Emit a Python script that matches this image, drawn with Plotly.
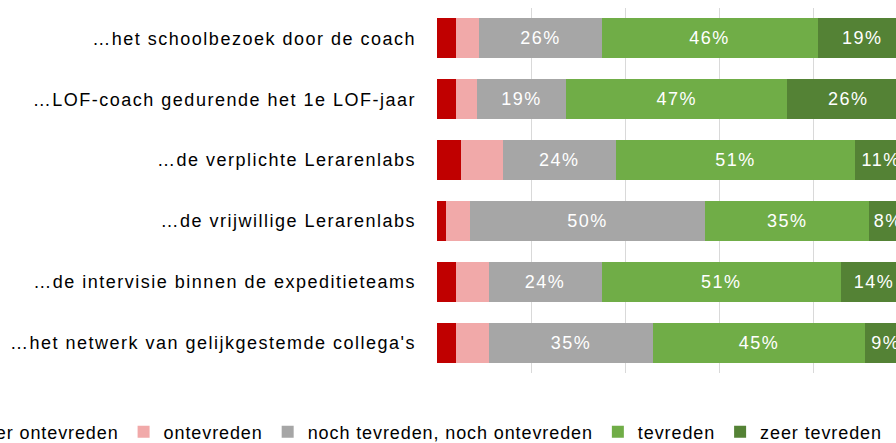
import plotly.graph_objects as go

categories = [
    "…het schoolbezoek door de coach",
    "…LOF-coach gedurende het 1e LOF-jaar",
    "…de verplichte Lerarenlabs",
    "…de vrijwillige Lerarenlabs",
    "…de intervisie binnen de expeditieteams",
    "…het netwerk van gelijkgestemde collega's",
]
zeer_ontevreden = [4, 4, 5, 2, 4, 4]
ontevreden = [5, 4.5, 9, 5, 7, 7]
noch = [26, 19, 24, 50, 24, 35]
tevreden = [46, 47, 51, 35, 51, 45]
zeer_tevreden = [19, 26, 11, 8, 14, 9]

FONT = "Liberation Sans, Arial, sans-serif"
SP = "<span style='letter-spacing:1.5px'>{}</span>"
# plotly puts more room between legend symbol and text than Excel, so the legend text is set a bit tighter
SP_LEGEND = "<span style='letter-spacing:0.9px'>{}</span>"

# figure is a bit larger than the window; the page shifts it left so it gets cropped like the original
HIDE_LEFT = 130
W, H = 896 + HIDE_LEFT + 60, 470
PLOT_L = 437 + HIDE_LEFT
PLOT_R = 907 + HIDE_LEFT
LEGEND_LEFT = -65 + HIDE_LEFT

series = [
    ("zeer ontevreden", zeer_ontevreden, "#C00000", False),
    ("ontevreden", ontevreden, "#F1A9A9", False),
    ("noch tevreden, noch ontevreden", noch, "#A6A6A6", True),
    ("tevreden", tevreden, "#70AD47", True),
    ("zeer tevreden", zeer_tevreden, "#548235", True),
]

fig = go.Figure()
for name, vals, color, labelled in series:
    fig.add_trace(go.Bar(
        y=categories, x=vals, name=SP_LEGEND.format(name), orientation="h",
        marker=dict(color=color, line=dict(width=0)),
        texttemplate=SP.format("%{x:.0f}%") if labelled else None,
        textposition="inside" if labelled else "none",
        insidetextanchor="middle", constraintext="none",
        textfont=dict(color="white", size=18, family=FONT),
        hoverinfo="skip",
    ))

fig.update_layout(
    template="none",
    width=W, height=H,
    margin=dict(l=PLOT_L, r=W - PLOT_R, t=8, b=H - 373, autoexpand=False),
    barmode="stack", bargap=0.34,
    paper_bgcolor="white", plot_bgcolor="white",
    font=dict(family=FONT, size=18, color="#000000"),
    legend=dict(
        orientation="h", traceorder="normal",
        xanchor="left", x=(LEGEND_LEFT - PLOT_L) / 470,
        yanchor="middle", y=-59 / 365,
        font=dict(family=FONT, size=18, color="#000000"),
        bgcolor="rgba(0,0,0,0)",
    ),
    xaxis=dict(range=[0, 100], dtick=20, showgrid=True, gridcolor="#D9D9D9",
               gridwidth=1, zeroline=False, showticklabels=False, ticks="",
               showline=False, fixedrange=True),
    yaxis=dict(autorange="reversed", tickvals=categories,
               ticktext=[SP.format(c) for c in categories],
               ticks="", showline=False, showgrid=False, automargin=False,
               ticklabelstandoff=20, fixedrange=True),
)

post = ("document.body.style.margin='0';document.body.style.overflow='hidden';"
        "document.getElementById('{plot_id}').style.marginLeft='-%dpx';" % HIDE_LEFT)
fig.write_html("out.html", post_script=post, config={"displayModeBar": False})
